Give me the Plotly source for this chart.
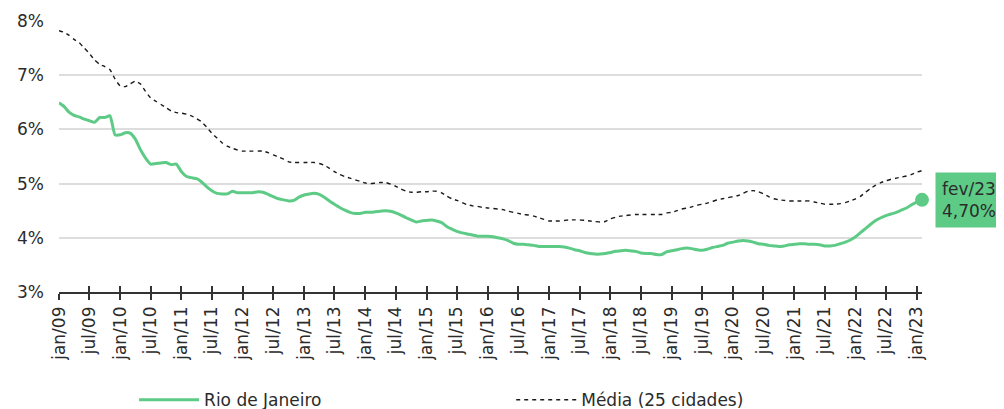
import pandas as pd
import plotly.graph_objects as go

# ---------------- data ----------------
months = pd.date_range("2009-01-01", "2023-02-01", freq="MS")

rio_de_janeiro = [
    # 2009
    6.49, 6.42, 6.32, 6.26, 6.23, 6.19, 6.16, 6.13, 6.22, 6.22, 6.25, 5.90,
    # 2010
    5.90, 5.94, 5.93, 5.82, 5.63, 5.47, 5.36, 5.37, 5.38, 5.39, 5.35, 5.36,
    # 2011
    5.22, 5.13, 5.11, 5.09, 5.03, 4.94, 4.87, 4.82, 4.81, 4.81, 4.86, 4.83,
    # 2012
    4.83, 4.83, 4.83, 4.85, 4.84, 4.80, 4.76, 4.72, 4.70, 4.68, 4.69, 4.75,
    # 2013
    4.79, 4.81, 4.82, 4.80, 4.75, 4.68, 4.62, 4.56, 4.51, 4.47, 4.45, 4.45,
    # 2014
    4.47, 4.47, 4.48, 4.49, 4.50, 4.49, 4.46, 4.42, 4.37, 4.33, 4.29, 4.31,
    # 2015
    4.32, 4.33, 4.31, 4.28, 4.21, 4.16, 4.12, 4.09, 4.07, 4.05, 4.03, 4.03,
    # 2016
    4.03, 4.02, 4.00, 3.98, 3.95, 3.90, 3.88, 3.88, 3.87, 3.86, 3.84, 3.84,
    # 2017
    3.84, 3.84, 3.84, 3.83, 3.81, 3.78, 3.76, 3.73, 3.71, 3.70, 3.70, 3.71,
    # 2018
    3.73, 3.75, 3.76, 3.77, 3.76, 3.75, 3.72, 3.71, 3.71, 3.69, 3.69, 3.74,
    # 2019
    3.76, 3.78, 3.80, 3.81, 3.80, 3.78, 3.77, 3.79, 3.82, 3.84, 3.86, 3.90,
    # 2020
    3.92, 3.94, 3.95, 3.94, 3.92, 3.89, 3.88, 3.86, 3.85, 3.84, 3.85, 3.87,
    # 2021
    3.88, 3.89, 3.89, 3.88, 3.88, 3.87, 3.85, 3.85, 3.86, 3.89, 3.92, 3.96,
    # 2022
    4.02, 4.10, 4.17, 4.25, 4.32, 4.37, 4.41, 4.44, 4.47, 4.51, 4.55, 4.61,
    # 2023
    4.66, 4.70,
]

media_25_cidades = [
    # 2009
    7.82, 7.79, 7.74, 7.66, 7.60, 7.50, 7.40, 7.28, 7.20, 7.16, 7.10, 6.93,
    # 2010
    6.80, 6.79, 6.84, 6.89, 6.84, 6.70, 6.58, 6.52, 6.46, 6.40, 6.34, 6.31,
    # 2011
    6.30, 6.28, 6.25, 6.20, 6.14, 6.04, 5.93, 5.84, 5.75, 5.69, 5.65, 5.62,
    # 2012
    5.60, 5.60, 5.60, 5.60, 5.60, 5.57, 5.53, 5.49, 5.45, 5.40, 5.39, 5.39,
    # 2013
    5.39, 5.39, 5.39, 5.37, 5.34, 5.28, 5.22, 5.17, 5.13, 5.10, 5.07, 5.04,
    # 2014
    5.01, 5.00, 5.01, 5.02, 5.02, 4.99, 4.95, 4.90, 4.86, 4.84, 4.84, 4.85,
    # 2015
    4.85, 4.86, 4.86, 4.83, 4.77, 4.72, 4.69, 4.65, 4.61, 4.59, 4.58, 4.56,
    # 2016
    4.55, 4.54, 4.53, 4.52, 4.49, 4.47, 4.45, 4.43, 4.42, 4.40, 4.37, 4.34,
    # 2017
    4.31, 4.31, 4.31, 4.32, 4.33, 4.33, 4.33, 4.32, 4.31, 4.30, 4.29, 4.30,
    # 2018
    4.35, 4.38, 4.40, 4.41, 4.42, 4.43, 4.43, 4.43, 4.43, 4.43, 4.43, 4.46,
    # 2019
    4.47, 4.50, 4.53, 4.55, 4.57, 4.60, 4.62, 4.64, 4.67, 4.70, 4.72, 4.74,
    # 2020
    4.76, 4.78, 4.82, 4.86, 4.87, 4.85, 4.81, 4.76, 4.72, 4.70, 4.69, 4.68,
    # 2021
    4.68, 4.68, 4.68, 4.68, 4.66, 4.64, 4.62, 4.62, 4.62, 4.63, 4.65, 4.68,
    # 2022
    4.72, 4.77, 4.84, 4.91, 4.97, 5.02, 5.05, 5.08, 5.10, 5.12, 5.14, 5.17,
    # 2023
    5.21, 5.24,
]

tick_dates = pd.date_range("2009-01-01", "2023-01-01", freq="6MS")
tick_labels = [
    "jan/09", "jul/09", "jan/10", "jul/10", "jan/11", "jul/11", "jan/12", "jul/12",
    "jan/13", "jul/13", "jan/14", "jul/14", "jan/15", "jul/15", "jan/16", "jul/16",
    "jan/17", "jul/17", "jan/18", "jul/18", "jan/19", "jul/19", "jan/20", "jul/20",
    "jan/21", "jul/21", "jan/22", "jul/22", "jan/23",
]
y_ticks = [3, 4, 5, 6, 7, 8]
y_tick_labels = ["3%", "4%", "5%", "6%", "7%", "8%"]
last_label = "fev/23<br>4,70%"

# ---------------- style ----------------
GREEN = "#5DCB86"
TEXT = "#2b2b2b"
FONT = "DejaVu Sans"

fig = go.Figure()

fig.add_trace(go.Scatter(
    x=months, y=rio_de_janeiro, name="Rio de Janeiro", mode="lines",
    line=dict(color=GREEN, width=3, shape="spline", smoothing=0.5),
    hoverinfo="skip", legend="legend",
))
fig.add_trace(go.Scatter(
    x=months, y=media_25_cidades, name="Média (25 cidades)", mode="lines",
    line=dict(color="#1a1a1a", width=1.4, dash="4px,4px", shape="spline", smoothing=0.5),
    hoverinfo="skip", legend="legend2",
))
fig.add_trace(go.Scatter(
    x=[months[-1]], y=[rio_de_janeiro[-1]], mode="markers", showlegend=False,
    marker=dict(color=GREEN, size=14), hoverinfo="skip", cliponaxis=False,
))
# invisible helper trace for the inside-tick axis
fig.add_trace(go.Scatter(
    x=[months[0], months[-1]], y=[None, None], xaxis="x2", mode="lines",
    showlegend=False, hoverinfo="skip",
))

fig.add_annotation(
    x=months[-1], y=rio_de_janeiro[-1], text=last_label, showarrow=False,
    xanchor="left", yanchor="middle", xshift=13, align="left",
    bgcolor=GREEN, borderpad=6,
    font=dict(family=FONT, size=17, color=TEXT),
)

x_range = [months[0], months[-1]]
legend_common = dict(
    orientation="h", xanchor="left", yref="container", y=0.022, yanchor="middle",
    font=dict(family=FONT, size=17, color=TEXT), itemwidth=60,
    bgcolor="rgba(0,0,0,0)",
)

# the page body adds an 8px margin, so the figure is 8px smaller than the window
fig.update_layout(
    width=996, height=401,
    margin=dict(l=51, r=82, t=13, b=117),
    paper_bgcolor="white", plot_bgcolor="white",
    font=dict(family=FONT, size=17, color=TEXT),
    showlegend=True,
    legend=dict(x=0.087, **legend_common),
    legend2=dict(x=0.524, **legend_common),
    xaxis=dict(
        type="date", range=x_range, automargin=False,
        tickmode="array", tickvals=tick_dates, ticktext=tick_labels,
        tickangle=-90, tickfont=dict(family=FONT, size=17, color=TEXT),
        showgrid=False, zeroline=False,
        showline=True, linecolor="#333333", linewidth=1.5,
        ticks="outside", ticklen=6, tickwidth=1.5, tickcolor="#333333",
    ),
    xaxis2=dict(
        type="date", range=x_range, overlaying="x", anchor="y", side="bottom",
        tickmode="array", tickvals=tick_dates, showticklabels=False,
        showgrid=False, zeroline=False, showline=False, automargin=False,
        ticks="inside", ticklen=6, tickwidth=1.5, tickcolor="#333333",
    ),
    yaxis=dict(
        range=[3, 8], tickmode="array", tickvals=y_ticks, ticktext=y_tick_labels,
        showgrid=True, gridcolor="#dddddd", gridwidth=1.5, automargin=False,
        zeroline=False, showline=False, ticks="",
        ticklabelstandoff=14,
        tickfont=dict(family=FONT, size=17, color=TEXT),
    ),
)

fig.write_html("out.html")
